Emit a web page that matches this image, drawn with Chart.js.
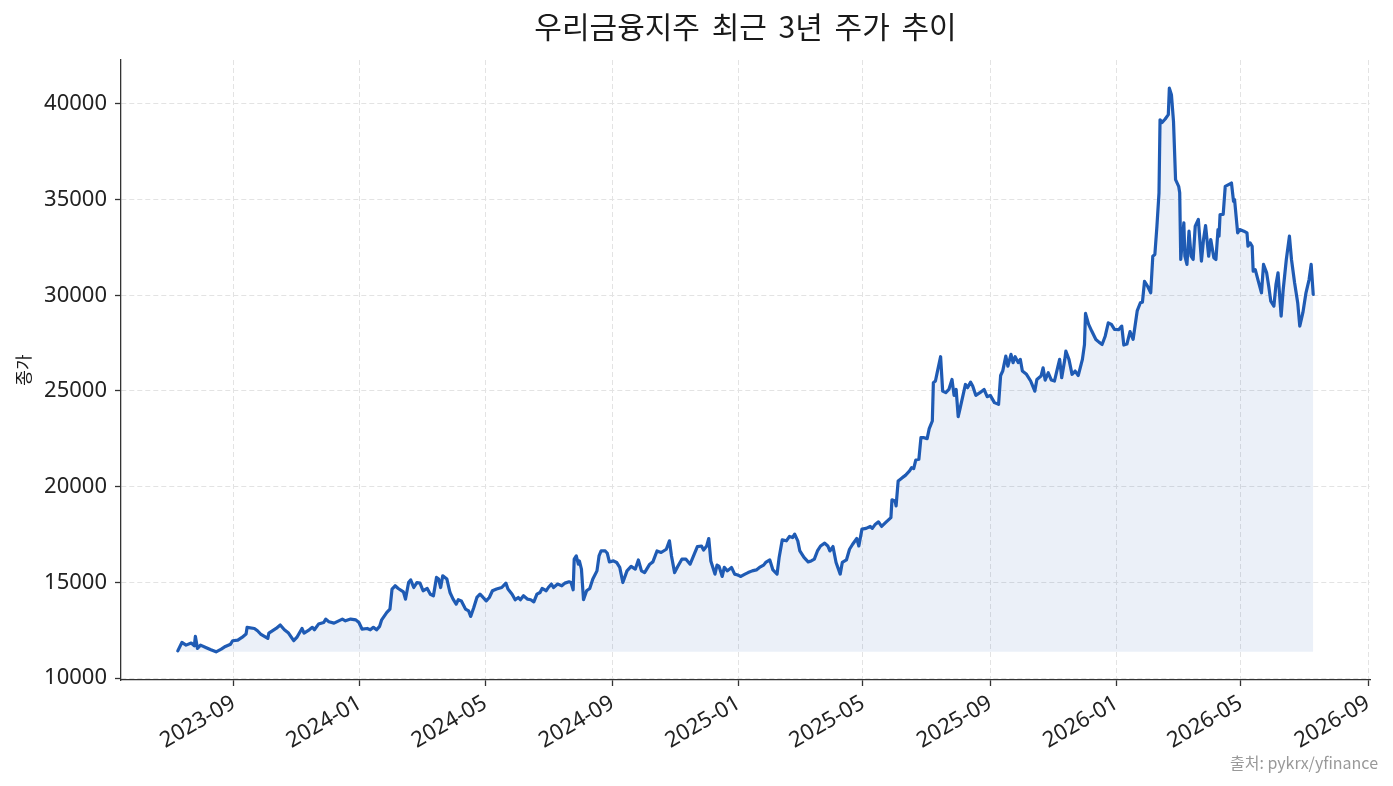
<!DOCTYPE html>
<html>
<head>
<meta charset="utf-8">
<script src="https://cdn.jsdelivr.net/npm/chart.js@4.4.1/dist/chart.umd.min.js"></script>
<style>
html,body{margin:0;padding:0;background:#ffffff;}
canvas{display:block;}
</style>
</head>
<body>
<canvas id="c" width="1393" height="786"></canvas>
<script>
const chartTitle = '우리금융지주 최근 3년 주가 추이';
const yAxisLabel = '종가';
const sourceNote = '출처: pykrx/yfinance';

const dates = [
'2023-07-09','2023-07-13','2023-07-17','2023-07-22','2023-07-25','2023-07-26','2023-07-28','2023-07-31',
'2023-08-05','2023-08-10','2023-08-15','2023-08-20','2023-08-24','2023-08-29','2023-08-31',
'2023-09-05','2023-09-09','2023-09-13','2023-09-14','2023-09-21','2023-09-24','2023-09-27',
'2023-10-04','2023-10-05','2023-10-12','2023-10-16','2023-10-20','2023-10-24','2023-10-29',
'2023-11-01','2023-11-06','2023-11-08','2023-11-13','2023-11-16','2023-11-18','2023-11-22','2023-11-27','2023-11-29',
'2023-12-02','2023-12-07','2023-12-15','2023-12-18','2023-12-23','2023-12-28','2023-12-31',
'2024-01-03','2024-01-08','2024-01-11','2024-01-14','2024-01-17','2024-01-20','2024-01-22','2024-01-27','2024-01-30',
'2024-02-01','2024-02-04','2024-02-07','2024-02-12','2024-02-14','2024-02-17','2024-02-19','2024-02-22','2024-02-25','2024-02-28',
'2024-03-02','2024-03-06','2024-03-09','2024-03-12','2024-03-15','2024-03-17','2024-03-19','2024-03-21','2024-03-25','2024-03-28','2024-03-31',
'2024-04-03','2024-04-05','2024-04-08','2024-04-12','2024-04-15','2024-04-17','2024-04-20','2024-04-23','2024-04-26','2024-04-29',
'2024-05-02','2024-05-05','2024-05-08','2024-05-12','2024-05-17','2024-05-21','2024-05-23','2024-05-27','2024-05-30',
'2024-06-02','2024-06-04','2024-06-07','2024-06-11','2024-06-14','2024-06-17','2024-06-20','2024-06-23','2024-06-25','2024-06-29',
'2024-07-01','2024-07-04','2024-07-06','2024-07-10','2024-07-14','2024-07-17','2024-07-21','2024-07-23','2024-07-25','2024-07-26','2024-07-28','2024-07-30','2024-07-31',
'2024-08-02','2024-08-04','2024-08-07','2024-08-10','2024-08-13','2024-08-17','2024-08-19','2024-08-21','2024-08-25','2024-08-27','2024-08-29',
'2024-09-02','2024-09-05','2024-09-08','2024-09-11','2024-09-15','2024-09-19','2024-09-23','2024-09-26','2024-09-29',
'2024-10-02','2024-10-07','2024-10-10','2024-10-14','2024-10-18','2024-10-23','2024-10-26','2024-10-28','2024-10-31',
'2024-11-03','2024-11-07','2024-11-11','2024-11-15','2024-11-19','2024-11-22','2024-11-26','2024-11-28',
'2024-12-01','2024-12-03','2024-12-05','2024-12-09','2024-12-11','2024-12-13','2024-12-16','2024-12-18','2024-12-21','2024-12-25','2024-12-28','2024-12-31',
'2025-01-03','2025-01-07','2025-01-10','2025-01-14','2025-01-18','2025-01-21','2025-01-25','2025-01-27','2025-01-31',
'2025-02-03','2025-02-07','2025-02-09','2025-02-12','2025-02-16','2025-02-19','2025-02-22','2025-02-24','2025-02-27',
'2025-03-01','2025-03-05','2025-03-09','2025-03-12','2025-03-15','2025-03-18','2025-03-21','2025-03-25','2025-03-28','2025-03-30',
'2025-04-02','2025-04-05','2025-04-09','2025-04-11','2025-04-15','2025-04-18','2025-04-21','2025-04-25','2025-04-27','2025-04-30',
'2025-05-04','2025-05-08','2025-05-10','2025-05-13','2025-05-16','2025-05-19','2025-05-23','2025-05-28','2025-05-29',
'2025-06-01','2025-06-02','2025-06-04','2025-06-08','2025-06-11','2025-06-15','2025-06-17','2025-06-19','2025-06-21','2025-06-24','2025-06-26','2025-06-29',
'2025-07-02','2025-07-04','2025-07-07','2025-07-08','2025-07-10','2025-07-12','2025-07-15','2025-07-17','2025-07-20','2025-07-23','2025-07-26','2025-07-28','2025-07-30',
'2025-08-01','2025-08-03','2025-08-08','2025-08-10','2025-08-13','2025-08-15','2025-08-18','2025-08-22','2025-08-26','2025-08-29',
'2025-09-01','2025-09-05','2025-09-09','2025-09-11','2025-09-13','2025-09-16','2025-09-18','2025-09-21','2025-09-23','2025-09-25','2025-09-28','2025-09-30',
'2025-10-02','2025-10-06','2025-10-10','2025-10-14','2025-10-16','2025-10-20','2025-10-22','2025-10-24','2025-10-27','2025-10-30',
'2025-11-02','2025-11-05','2025-11-07','2025-11-09','2025-11-12','2025-11-13','2025-11-16','2025-11-19','2025-11-22','2025-11-25','2025-11-29',
'2025-12-01','2025-12-02','2025-12-05','2025-12-08','2025-12-12','2025-12-15','2025-12-18','2025-12-21','2025-12-24','2025-12-27','2025-12-30',
'2026-01-03','2026-01-06','2026-01-08','2026-01-11','2026-01-14','2026-01-17','2026-01-21','2026-01-24','2026-01-26','2026-01-28','2026-01-31',
'2026-02-03','2026-02-05','2026-02-07','2026-02-09','2026-02-11','2026-02-12','2026-02-14','2026-02-17','2026-02-20','2026-02-21','2026-02-23','2026-02-25','2026-02-27',
'2026-03-02','2026-03-03','2026-03-04','2026-03-07','2026-03-08','2026-03-10','2026-03-12','2026-03-14','2026-03-16','2026-03-18','2026-03-21','2026-03-24','2026-03-26','2026-03-28','2026-03-31',
'2026-04-02','2026-04-05','2026-04-07','2026-04-09','2026-04-10','2026-04-11','2026-04-14','2026-04-16','2026-04-21','2026-04-22','2026-04-24','2026-04-25','2026-04-28','2026-04-30',
'2026-05-04','2026-05-07','2026-05-08','2026-05-10','2026-05-12','2026-05-13','2026-05-15','2026-05-18','2026-05-21','2026-05-23','2026-05-26','2026-05-28','2026-05-30',
'2026-06-02','2026-06-04','2026-06-06','2026-06-09','2026-06-11','2026-06-14','2026-06-17','2026-06-19','2026-06-22','2026-06-25','2026-06-27','2026-06-30',
'2026-07-03','2026-07-06','2026-07-08','2026-07-10'
];

const closes = [
11420,11860,11720,11830,11690,12180,11550,11720,
11600,11480,11370,11510,11650,11770,11950,
11980,12120,12300,12650,12590,12470,12300,
12070,12350,12590,12770,12520,12350,11950,
12120,12590,12350,12520,12650,12520,12820,12900,13080,
12940,12870,13080,12990,13080,13040,12900,
12560,12590,12520,12650,12520,12700,13040,13430,13600,
14650,14820,14680,14500,14120,14990,15130,14730,14990,14960,
14560,14680,14380,14300,15260,15170,14730,15340,15170,14470,14120,
13860,14090,14030,13600,13510,13220,13690,14210,14380,14210,
14030,14210,14560,14650,14730,14960,14650,14380,14090,
14210,14090,14300,14120,14090,13980,14380,14470,14680,14560,
14730,14910,14730,14910,14820,14960,15030,14990,14610,16210,16380,15950,16120,
15690,14090,14560,14680,15170,15600,16380,16640,16640,16520,16070,
16120,16040,15780,14990,15600,15830,15690,16170,15600,
15510,15950,16070,16640,16560,16730,17170,16380,15510,
15830,16210,16210,15950,16470,16870,16900,16690,
16900,17290,16120,15430,15900,15830,15310,15780,15600,15780,15430,15380,
15310,15430,15510,15600,15650,15780,15900,16040,16170,
15650,15430,16300,17220,17170,17400,17340,17520,17170,
16640,16300,16070,16120,16210,16640,16900,17050,16900,16640,
16870,16040,15430,16040,16170,16730,16990,17290,16900,17780,
17820,17920,17820,18040,18160,17920,18130,18380,19310,
19250,18990,20300,20470,20590,20820,20990,20940,21390,21430,22560,22560,
22510,23030,23430,25430,25520,26040,26790,24990,24910,25080,25600,24770,25080,
23660,24130,25340,25170,25460,25260,24770,24910,25080,24700,
24770,24390,24300,25810,26040,26820,26300,26910,26480,26790,26480,26650,
26040,25870,25520,24990,25600,25780,26210,25570,25950,25570,
25520,26210,26650,25690,26650,27080,26650,25870,26040,25810,26650,
27430,29050,28480,28130,27690,27550,27430,27860,28560,28480,28220,
28200,28390,27400,27450,28100,27700,29200,29610,29640,30730,30470,
30130,32040,32130,33610,35350,39170,39030,39210,39440,40820,40480,39090,36040,
35690,35350,31870,33780,32040,31610,33350,32040,31870,33610,33960,31780,32910,33640,32040,
32910,31960,31870,33430,33090,34220,34220,35690,35830,35870,34910,35000,33260,33430,
33350,33260,32560,32740,32560,31260,31340,30730,30130,31610,31170,30470,29690,
29430,30560,31170,28910,30300,31870,33090,31870,30650,29610,28390,29090,
30130,30820,31610,30040
];

const xTickDates = ['2023-09-01','2024-01-01','2024-05-01','2024-09-01','2025-01-01','2025-05-01','2025-09-01','2026-01-01','2026-05-01','2026-09-01'];
const xTickLabels = ['2023-09','2024-01','2024-05','2024-09','2025-01','2025-05','2025-09','2026-01','2026-05','2026-09'];
const yTicks = [10000, 15000, 20000, 25000, 30000, 35000, 40000];

function ts(s) { const p = s.split('-').map(Number); return Date.UTC(p[0], p[1] - 1, p[2]); }

const points = dates.map((d, i) => ({ x: ts(d), y: closes[i] }));
const minClose = Math.min(...closes);
const maxClose = Math.max(...closes);
const yPad = (maxClose - minClose) * 0.05;
const xFirst = ts(dates[0]);
const xLast = ts(dates[dates.length - 1]);
const xPad = (xLast - xFirst) * 0.05;
const xTickVals = xTickDates.map(ts);

const LINE = '#1f5bb4';
const FILL = 'rgba(31,91,180,0.09)';
const TICKFONT = { family: '"Noto Sans", "DejaVu Sans", sans-serif', size: 22 };

const textPlugin = {
  id: 'textPlugin',
  afterDraw(chart) {
    const ctx = chart.ctx, a = chart.chartArea;
    ctx.save();
    ctx.fillStyle = '#1a1a1a';
    ctx.font = '30px "Noto Sans CJK KR", sans-serif';
    try { ctx.wordSpacing = '5px'; } catch (e) {}
    ctx.textAlign = 'center';
    ctx.textBaseline = 'middle';
    ctx.fillText(chartTitle, (a.left + a.right) / 2, 27);
    try { ctx.wordSpacing = '0px'; } catch (e) {}
    ctx.save();
    ctx.font = '17px "Noto Sans CJK KR", sans-serif';
    ctx.translate(24, (a.top + a.bottom) / 2);
    ctx.rotate(-Math.PI / 2);
    ctx.fillText(yAxisLabel, 0, 0);
    ctx.restore();
    ctx.font = '16px "Noto Sans CJK KR", sans-serif';
    ctx.fillStyle = '#999999';
    ctx.textAlign = 'right';
    ctx.fillText(sourceNote, 1378, 763);
    ctx.restore();
  }
};

new Chart(document.getElementById('c'), {
  type: 'line',
  data: {
    datasets: [{
      data: points,
      borderColor: LINE,
      borderWidth: 3.2,
      borderJoinStyle: 'round',
      borderCapStyle: 'round',
      pointRadius: 0,
      pointHoverRadius: 0,
      tension: 0,
      backgroundColor: FILL,
      fill: { target: { value: minClose }, above: FILL, below: FILL }
    }]
  },
  options: {
    responsive: false,
    animation: false,
    devicePixelRatio: 1,
    layout: { padding: { top: 60, right: 23, left: 0, bottom: 0 } },
    plugins: { legend: { display: false }, title: { display: false }, tooltip: { enabled: false } },
    scales: {
      x: {
        type: 'linear',
        min: xFirst - xPad,
        max: xLast + xPad,
        bounds: 'data',
        afterBuildTicks: ax => { ax.ticks = xTickVals.map(v => ({ value: v })); },
        afterFit: ax => { ax.height = 106; ax.paddingLeft = 0; ax.paddingRight = 0; },
        ticks: {
          autoSkip: false, minRotation: 30, maxRotation: 30, padding: 4,
          color: '#222222', font: TICKFONT,
          callback: v => { const i = xTickVals.indexOf(v); return i >= 0 ? xTickLabels[i] : ''; }
        },
        grid: { color: '#e3e3e3', lineWidth: 1, tickColor: '#333333', tickLength: 6, tickWidth: 1.3, tickBorderDash: [] },
        border: { display: true, color: '#333333', width: 1.3, dash: [5, 3] }
      },
      y: {
        type: 'linear',
        min: minClose - yPad,
        max: maxClose + yPad,
        bounds: 'data',
        afterBuildTicks: ax => { ax.ticks = yTicks.map(v => ({ value: v })); },
        afterFit: ax => { ax.width = 121; ax.paddingTop = 0; ax.paddingBottom = 0; },
        ticks: { padding: 8, color: '#222222', font: TICKFONT, callback: v => String(v) },
        grid: { color: '#e3e3e3', lineWidth: 1, tickColor: '#333333', tickLength: 6, tickWidth: 1.3, tickBorderDash: [] },
        border: { display: true, color: '#333333', width: 1.3, dash: [5, 3] }
      }
    }
  },
  plugins: [textPlugin]
});
</script>
</body>
</html>
